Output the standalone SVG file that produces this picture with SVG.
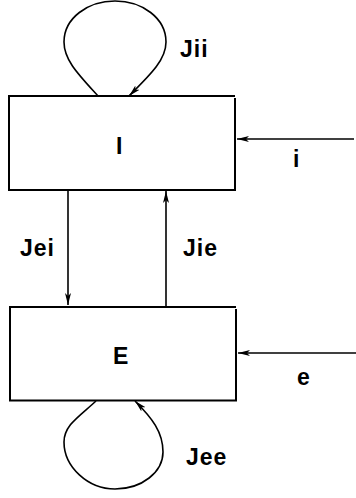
<svg xmlns="http://www.w3.org/2000/svg" width="356" height="498" viewBox="0 0 356 498">
  <style>
    .box { fill: none; stroke: #000; stroke-width: 2; }
    .edge { fill: none; stroke: #000; stroke-width: 1.6; marker-end: url(#arrow); }
    .lbl { font-family: "Liberation Sans", Arial, Helvetica, sans-serif; font-weight: bold; font-size: 23px; letter-spacing: 1px; fill: #000; }
  </style>
  <defs>
    <marker id="arrow" viewBox="0 0 12 8" refX="12" refY="4" markerWidth="12" markerHeight="8" markerUnits="userSpaceOnUse" orient="auto">
      <path d="M0,1 L12,4 L0,7 L3,4 Z" fill="#000"/>
    </marker>
  </defs>
  <rect width="356" height="498" fill="#fff"/>

  <g id="node-I">
    <path class="box" d="M8,96 H235 M235,98 V190 H9 V96"/>
    <text class="lbl" x="116" y="154">I</text>
  </g>

  <g id="node-E">
    <path class="box" d="M9,307 H236 M236,309 V400.5 H10 V307"/>
    <text class="lbl" x="113" y="364">E</text>
  </g>

  <g id="connectors">
    <!-- I self-loop -->
    <path class="edge" d="M98,96 C78,74 64,60 64,42 C64,18 88,1 115,1 C142,1 166,18 166,42 C166,60 150,75 129,96"/>
    <text class="lbl" x="180" y="57">Jii</text>
    <!-- E self-loop -->
    <path class="edge" d="M96,401 C80,416 64,425 64,442 C64,467 88,489 115,489 C142,489 163,472 163,452 C163,432 152,418 135,401"/>
    <text class="lbl" x="186" y="465">Jee</text>
    <!-- I to E -->
    <path class="edge" d="M68,190 V305"/>
    <text class="lbl" x="20" y="256">Jei</text>
    <!-- E to I -->
    <path class="edge" d="M166,307 V191"/>
    <text class="lbl" x="183" y="256">Jie</text>
    <!-- external inputs -->
    <path class="edge" d="M354,139 H237"/>
    <text class="lbl" x="293" y="167">i</text>
    <path class="edge" d="M356,353 H238"/>
    <text class="lbl" x="297" y="385">e</text>
  </g>
</svg>
